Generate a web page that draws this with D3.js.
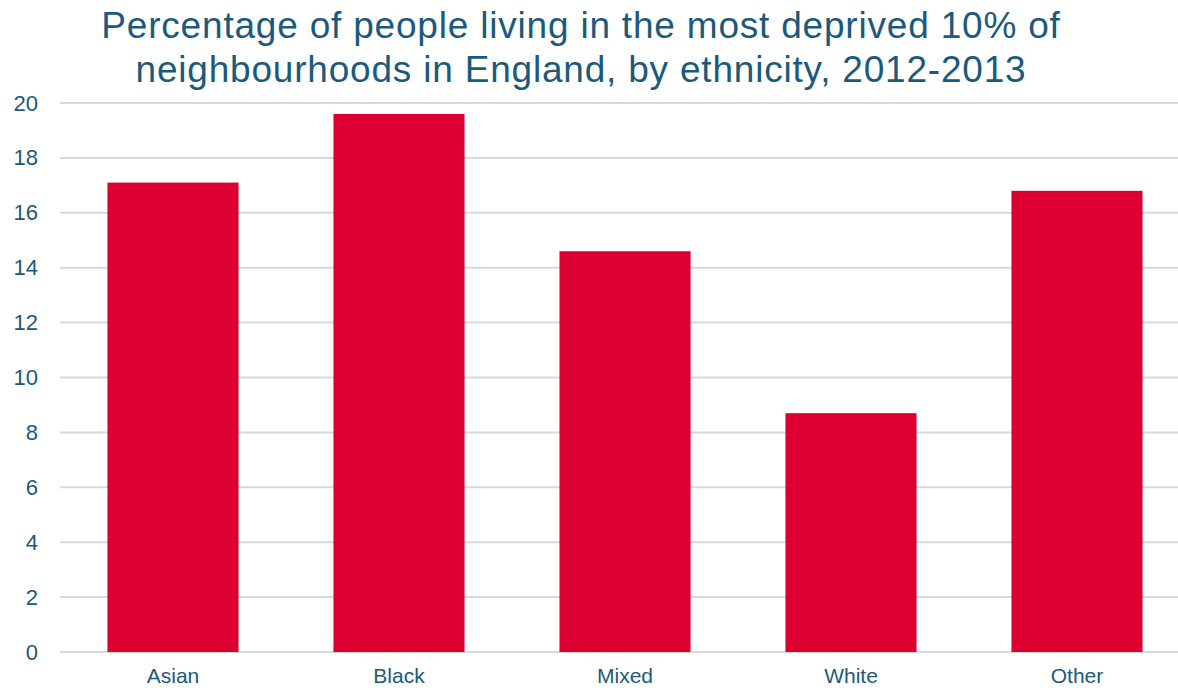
<!DOCTYPE html>
<html>
<head>
<meta charset="utf-8">
<script src="https://cdn.jsdelivr.net/npm/d3@7"></script>
<style>
  body { margin: 0; background: #fff; }
  text { font-family: "Liberation Sans", Arial, sans-serif; }
</style>
</head>
<body>
<div id="chart"></div>
<script>
const categories = ["Asian", "Black", "Mixed", "White", "Other"];
const values = [17.1, 19.6, 14.6, 8.7, 16.8];
const yTicks = [0, 2, 4, 6, 8, 10, 12, 14, 16, 18, 20];
const titleLines = ["Percentage of people living in the most deprived 10% of",
                    "neighbourhoods in England, by ethnicity, 2012-2013"];

const width = 1178;
const height = 691;
const textColor = "#1b5a7c";

const svg = d3.select("#chart")
              .append("svg")
              .attr("width", width)
              .attr("height", height);

const x = d3.scaleBand()
            .domain(categories)
            .range([60, 1190])
            .paddingInner(0.42)
            .paddingOuter(0.21);

const y = d3.scaleLinear()
            .domain([0, 20])
            .range([652, 103]);

// gridlines
svg.append("g")
   .selectAll("line")
   .data(yTicks)
   .enter()
   .append("line")
   .attr("x1", 60)
   .attr("x2", width)
   .attr("y1", function (d) { return y(d); })
   .attr("y2", function (d) { return y(d); })
   .attr("stroke", "#d9d9d9")
   .attr("stroke-width", 2);

// y axis labels
const yAxis = svg.append("g")
   .attr("transform", "translate(38,0)")
   .call(d3.axisLeft(y).tickValues(yTicks).tickSize(0).tickPadding(0));
yAxis.select(".domain").remove();
yAxis.selectAll("text")
     .attr("fill", textColor)
     .style("font-size", "22px");

// bars
svg.selectAll("rect.bar")
   .data(values)
   .enter()
   .append("rect")
   .attr("class", "bar")
   .attr("x", function (d, i) { return x(categories[i]); })
   .attr("y", function (d) { return y(d); })
   .attr("width", x.bandwidth())
   .attr("height", function (d) { return y(0) - y(d); })
   .attr("fill", "#dc0030");

// x axis labels
const xAxis = svg.append("g")
   .attr("transform", "translate(0," + y(0) + ")")
   .call(d3.axisBottom(x).tickSize(0).tickPadding(16));
xAxis.select(".domain").remove();
xAxis.selectAll("text")
     .attr("fill", textColor)
     .style("font-size", "21px");

// title
svg.append("g")
   .selectAll("text")
   .data(titleLines)
   .enter()
   .append("text")
   .attr("x", 581)
   .attr("y", function (d, i) { return 38 + i * 44; })
   .attr("text-anchor", "middle")
   .attr("fill", textColor)
   .style("font-size", "37px")
   .style("letter-spacing", "0.8px")
   .text(function (d) { return d; });
</script>
</body>
</html>
